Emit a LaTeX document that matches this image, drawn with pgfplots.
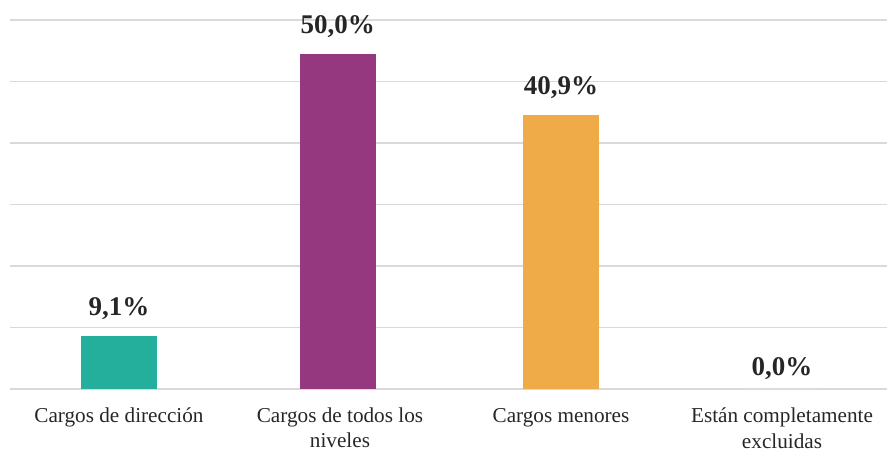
\documentclass[border=0pt]{standalone}
\usepackage{pgfplots}
\pgfplotsset{compat=1.18}
\usepackage{fontspec}
\setmainfont{Liberation Serif}
\usetikzlibrary{calc}
\definecolor{cteal}{RGB}{35,175,155}
\definecolor{cpurple}{RGB}{150,56,128}
\definecolor{corange}{RGB}{239,171,71}
\definecolor{cgrid}{RGB}{217,217,217}
\definecolor{ctext}{RGB}{38,38,38}
\begin{document}
\begin{tikzpicture}
\begin{axis}[
  name=ax,
  scale only axis,
  width=438.5pt, height=184.5pt,
  xmin=-0.493, xmax=3.475,
  ymin=0, ymax=55.07,
  ytick={0,9.178,18.357,27.535,36.713,45.892,55.07},
  yticklabels={},
  ymajorgrids,
  grid style={cgrid, line width=0.8pt},
  axis line style={draw=none},
  major tick length=0pt,
  xtick={0,1,2,3},
  xticklabels={Cargos de dirección, Cargos de todos los\\niveles, Cargos menores, Están completamente\\excluidas},
  xticklabel style={align=center, font=\fontsize{10.6}{12.6}\selectfont, text=ctext, yshift=-6pt},
  ybar, bar shift=0pt, bar width=38pt,
  point meta=explicit symbolic,
  nodes near coords,
  every node near coord/.append style={font=\bfseries\fontsize{13.5}{15}\selectfont, text=ctext, anchor=south, inner sep=0pt, yshift=8pt},
  clip=false,
]
\addplot[fill=cteal, draw=none] coordinates {(0,7.9) [9,1\%]};
\addplot[fill=cpurple, draw=none] coordinates {(0.99,50.0) [50,0\%]};
\addplot[fill=corange, draw=none] coordinates {(2,40.9) [40,9\%]};
\addplot[fill=white, draw=none, every node near coord/.append style={yshift=-3.5pt}] coordinates {(3,0.0) [0,0\%]};
\end{axis}
\pgfresetboundingbox
\useasboundingbox ($(ax.south west)+(-5pt,-32.5pt)$) rectangle ($(ax.north east)+(0,10pt)$);
\end{tikzpicture}
\end{document}
